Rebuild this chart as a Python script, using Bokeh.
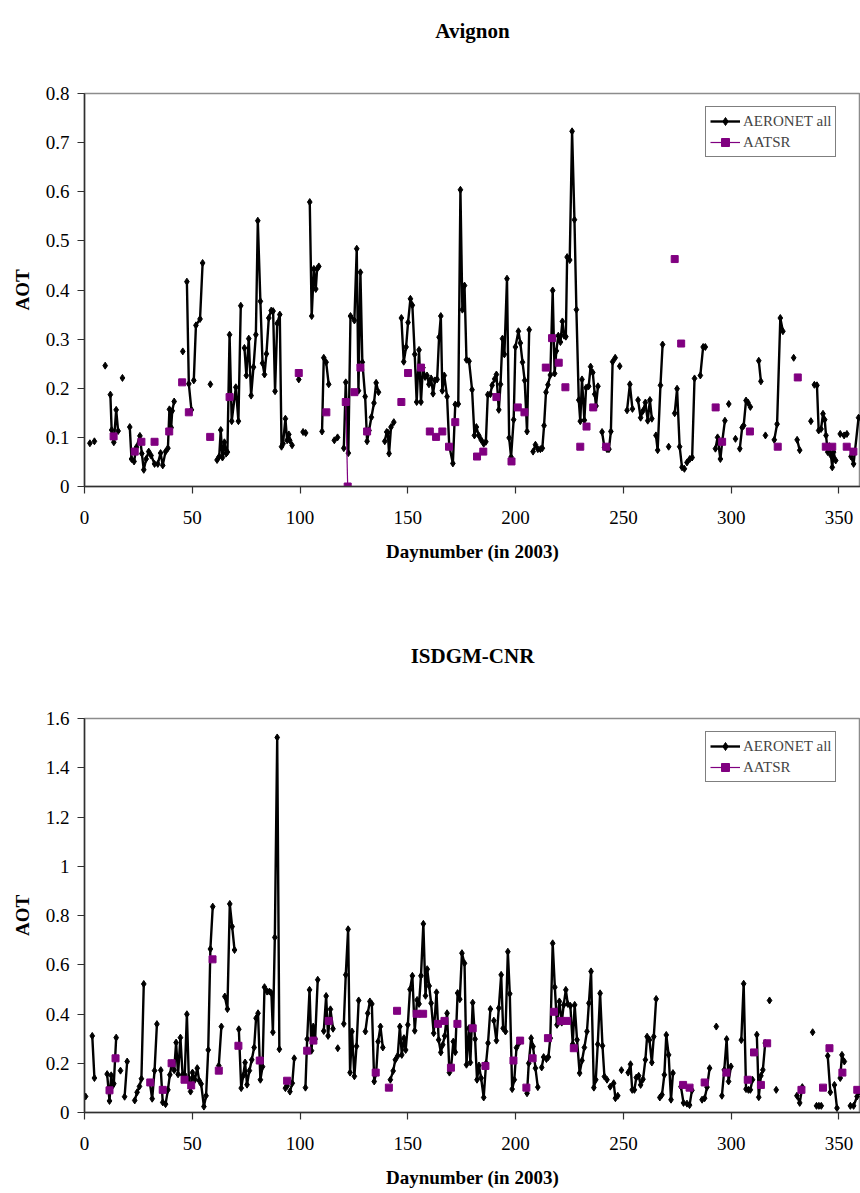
import numpy as np
from bokeh.plotting import figure
from bokeh.layouts import column
from bokeh.models import (Range1d, FixedTicker, CustomJSTickFormatter, Legend, LegendItem, Title)
from bokeh.embed import file_html
from bokeh.resources import INLINE

# ---------------- data ----------------
x_ticks = [0, 50, 100, 150, 200, 250, 300, 350]
avignon_y_ticks = [0, 0.1, 0.2, 0.3, 0.4, 0.5, 0.6, 0.7, 0.8]
isdgm_y_ticks = [0, 0.2, 0.4, 0.6, 0.8, 1.0, 1.2, 1.4, 1.6]
titles = ["Avignon", "ISDGM-CNR"]
series_names = ["AERONET all", "AATSR"]
x_label = "Daynumber (in 2003)"
y_label = "AOT"

# AERONET daily AOT, runs of consecutive days (gaps = no measurement)
avignon_aeronet = [
    [(2.5, 0.088)], [(4.6, 0.092)], [(9.6, 0.246)],
    [(12.0, 0.187), (12.6, 0.115), (13.6, 0.090), (14.7, 0.156), (15.6, 0.113)],
    [(17.6, 0.221)],
    [(21.0, 0.121), (21.8, 0.056), (23.0, 0.051), (24.1, 0.080), (25.7, 0.103), (26.6, 0.067),
     (27.5, 0.034), (28.6, 0.056), (29.8, 0.071), (30.9, 0.063), (32.5, 0.046), (34.0, 0.046),
     (35.3, 0.068), (36.3, 0.043), (37.6, 0.071), (38.7, 0.078), (39.4, 0.157), (40.2, 0.120),
     (40.7, 0.154), (41.6, 0.173)],
    [(45.6, 0.275)],
    [(47.5, 0.417), (48.4, 0.209), (49.6, 0.156)],
    [(50.7, 0.216), (51.7, 0.328), (53.6, 0.341), (54.8, 0.455)],
    [(58.4, 0.208)],
    [(61.5, 0.054), (62.5, 0.061), (63.2, 0.115), (64.0, 0.059), (64.9, 0.090), (65.7, 0.067),
     (66.3, 0.070), (67.3, 0.309), (68.3, 0.133), (70.2, 0.202), (71.4, 0.133), (72.5, 0.368)],
    [(74.2, 0.282), (75.1, 0.226), (76.2, 0.301), (77.3, 0.185), (78.4, 0.243), (79.5, 0.309),
     (80.4, 0.541), (81.6, 0.377), (82.6, 0.251), (83.5, 0.228), (84.4, 0.270), (85.5, 0.343),
     (86.6, 0.358), (87.5, 0.357), (88.4, 0.194), (89.4, 0.332), (90.6, 0.350), (91.4, 0.081),
     (92.1, 0.087), (93.2, 0.138), (94.0, 0.094), (94.8, 0.106), (95.2, 0.094), (96.3, 0.084)],
    [(99.4, 0.218)],
    [(101.4, 0.111), (102.6, 0.109)],
    [(104.5, 0.579), (105.4, 0.347), (106.4, 0.443), (107.3, 0.402), (107.9, 0.443), (108.7, 0.448)],
    [(110.2, 0.112), (111.0, 0.262), (112.1, 0.253), (113.3, 0.208)],
    [(115.9, 0.094), (117.4, 0.100)],
    [(120.3, 0.078), (121.2, 0.212), (122.4, 0.068), (123.4, 0.347), (125.2, 0.338), (126.3, 0.484),
     (127.1, 0.195), (128.0, 0.436), (128.9, 0.253), (130.2, 0.183), (131.1, 0.092), (132.0, 0.114),
     (133.1, 0.141), (134.3, 0.170), (135.3, 0.211), (136.4, 0.192)],
    [(139.3, 0.092), (140.2, 0.111), (140.7, 0.110), (141.3, 0.067), (142.2, 0.121), (143.5, 0.131)],
    [(147.0, 0.343), (148.1, 0.254), (149.2, 0.284), (150.1, 0.334), (151.2, 0.382), (152.1, 0.369),
     (153.2, 0.269), (154.1, 0.172), (155.2, 0.278), (156.1, 0.172), (157.0, 0.242), (158.0, 0.223),
     (158.9, 0.226), (159.8, 0.208), (160.8, 0.220), (161.7, 0.189), (162.6, 0.216), (163.6, 0.218),
     (164.5, 0.304), (165.3, 0.347), (166.0, 0.195), (166.9, 0.226), (168.2, 0.183), (169.2, 0.083),
     (170.9, 0.047), (172.0, 0.167), (173.4, 0.168), (174.4, 0.604), (175.3, 0.360), (176.3, 0.409),
     (177.2, 0.258), (178.4, 0.255), (179.8, 0.197), (180.9, 0.104), (181.8, 0.121), (182.9, 0.104),
     (184.0, 0.095), (185.2, 0.087), (186.2, 0.091), (187.1, 0.187), (188.3, 0.188), (189.1, 0.206),
     (190.3, 0.219), (191.1, 0.228), (192.2, 0.156), (193.0, 0.208), (193.9, 0.301), (194.8, 0.269),
     (196.0, 0.423), (197.0, 0.099), (197.9, 0.060), (199.1, 0.136), (199.9, 0.284), (201.3, 0.316),
     (202.2, 0.292), (203.2, 0.253), (204.2, 0.216), (205.3, 0.112), (206.3, 0.319)],
    [(208.1, 0.071), (209.2, 0.085), (210.3, 0.076), (211.5, 0.076), (212.4, 0.078), (213.2, 0.124),
     (214.1, 0.192), (215.0, 0.207), (216.1, 0.227), (217.2, 0.399), (218.1, 0.230), (218.9, 0.276),
     (219.8, 0.307), (220.8, 0.294), (221.7, 0.336), (222.5, 0.307), (223.3, 0.305), (223.9, 0.467),
     (225.1, 0.461), (226.2, 0.723), (227.3, 0.543), (228.2, 0.360), (229.3, 0.176), (230.0, 0.133),
     (230.8, 0.218), (231.9, 0.135), (232.7, 0.201), (233.9, 0.204), (234.8, 0.244), (235.8, 0.232),
     (236.7, 0.188), (237.3, 0.164), (238.2, 0.204)],
    [(240.1, 0.111), (241.2, 0.080), (242.4, 0.076), (243.3, 0.076), (244.2, 0.112), (245.0, 0.254),
     (246.2, 0.262)],
    [(248.3, 0.245)],
    [(251.7, 0.155), (253.0, 0.208), (254.2, 0.158)],
    [(256.8, 0.176), (258.0, 0.140), (259.1, 0.154), (260.2, 0.171), (261.3, 0.134), (262.3, 0.176),
     (263.2, 0.138)],
    [(265.1, 0.104), (265.9, 0.074), (267.2, 0.206), (268.2, 0.289)],
    [(271.0, 0.081)],
    [(273.8, 0.149), (274.9, 0.199), (276.1, 0.081), (277.2, 0.039), (278.3, 0.036)],
    [(279.5, 0.049), (280.8, 0.056), (281.9, 0.059), (283.0, 0.220)],
    [(285.7, 0.226), (287.0, 0.284), (288.0, 0.284)],
    [(292.7, 0.077), (293.7, 0.100), (295.0, 0.056), (295.9, 0.093), (297.1, 0.134)],
    [(298.9, 0.168)], [(302.0, 0.097)],
    [(304.0, 0.077), (305.1, 0.120), (305.8, 0.124), (306.9, 0.175), (307.8, 0.171), (308.9, 0.162)],
    [(312.8, 0.256), (313.8, 0.214)],
    [(315.9, 0.104)],
    [(320.0, 0.095), (321.3, 0.127), (322.8, 0.343), (324.0, 0.316)],
    [(329.0, 0.262)],
    [(330.6, 0.095), (331.8, 0.074)],
    [(337.0, 0.133)],
    [(338.6, 0.207), (339.8, 0.206), (340.6, 0.114), (341.7, 0.117), (342.6, 0.148), (343.4, 0.136),
     (344.0, 0.104), (344.8, 0.070), (345.6, 0.082), (346.3, 0.063), (346.9, 0.039), (347.5, 0.070),
     (348.5, 0.053)],
    [(350.6, 0.107), (352.4, 0.104), (353.7, 0.107)],
    [(355.6, 0.061), (356.8, 0.046), (359.1, 0.140)],
]

avignon_aatsr_day = [13.5, 23.3, 26.4, 32.5, 39.3, 45.3, 48.4, 58.3, 67.3, 99.4, 112.2, 121.2, 122.1,
                     125.2, 128.0, 131.1, 147.0, 150.1, 156.1, 160.2, 163.1, 166.0, 169.1, 172.0,
                     182.1, 185.0, 191.1, 198.1, 201.0, 204.1, 214.0, 216.9, 220.0, 223.1, 230.0,
                     232.9, 236.0, 242.0, 273.8, 276.8, 292.8, 295.8, 308.7, 321.6, 330.9, 343.9,
                     346.9, 353.6, 356.7]
avignon_aatsr_aot = [0.102, 0.071, 0.091, 0.091, 0.112, 0.212, 0.151, 0.101, 0.182, 0.231, 0.151, 0.172,
                     0.0, 0.192, 0.242, 0.112, 0.172, 0.231, 0.242, 0.112, 0.101, 0.112, 0.081, 0.131,
                     0.061, 0.071, 0.182, 0.051, 0.161, 0.151, 0.242, 0.302, 0.252, 0.202, 0.081,
                     0.122, 0.161, 0.081, 0.463, 0.291, 0.161, 0.091, 0.112, 0.081, 0.222, 0.081,
                     0.081, 0.081, 0.071]

isdgm_aeronet = [
    [(0.5, 0.065)],
    [(3.6, 0.311), (4.6, 0.140)],
    [(10.5, 0.156), (11.6, 0.047), (12.4, 0.151), (13.0, 0.108), (13.6, 0.117), (14.7, 0.304)],
    [(16.7, 0.170)],
    [(18.6, 0.064), (19.8, 0.207)],
    [(23.3, 0.049), (24.4, 0.082), (25.5, 0.106), (26.4, 0.137), (27.5, 0.522)],
    [(30.3, 0.122), (31.4, 0.056), (32.5, 0.170), (33.6, 0.359)],
    [(35.4, 0.172), (36.3, 0.041), (37.6, 0.034), (38.7, 0.092), (39.6, 0.153), (40.5, 0.200),
     (41.6, 0.172), (42.5, 0.284), (43.4, 0.155), (44.5, 0.304), (45.5, 0.153), (46.5, 0.153),
     (47.5, 0.399), (48.4, 0.140), (49.2, 0.085), (50.1, 0.162), (51.2, 0.133), (52.3, 0.180),
     (53.2, 0.130), (54.1, 0.116), (55.4, 0.024), (56.4, 0.068), (57.4, 0.254), (58.4, 0.664),
     (59.5, 0.836)],
    [(62.3, 0.190), (63.5, 0.349)],
    [(65.1, 0.471), (66.3, 0.420), (67.4, 0.847), (68.5, 0.755), (69.6, 0.660)],
    [(71.6, 0.338), (72.7, 0.099), (73.6, 0.149), (74.5, 0.203), (75.4, 0.113), (76.5, 0.170),
     (77.6, 0.214), (78.7, 0.264), (79.6, 0.383), (80.5, 0.403), (81.6, 0.133), (82.6, 0.186),
     (83.5, 0.509), (84.7, 0.491), (85.8, 0.491), (86.7, 0.485), (87.4, 0.326), (88.3, 0.711),
     (89.4, 1.523), (90.4, 0.257)],
    [(93.2, 0.099), (94.0, 0.108)],
    [(95.3, 0.085), (96.4, 0.119), (97.3, 0.220)],
    [(102.5, 0.101), (103.3, 0.298), (104.4, 0.498), (105.3, 0.251), (106.1, 0.349), (107.0, 0.298),
     (108.2, 0.539)],
    [(111.0, 0.331), (112.1, 0.473), (113.0, 0.311), (114.1, 0.419), (115.3, 0.340)],
    [(117.5, 0.261)],
    [(120.3, 0.360), (121.2, 0.559), (122.3, 0.744), (123.2, 0.162), (124.1, 0.329), (125.2, 0.147),
     (126.2, 0.269), (127.2, 0.455)],
    [(130.3, 0.329), (131.4, 0.403), (132.4, 0.451), (133.3, 0.441), (134.4, 0.126), (135.3, 0.160),
     (136.2, 0.288), (137.3, 0.349), (138.4, 0.264)],
    [(141.9, 0.133), (143.2, 0.169), (144.2, 0.214), (145.3, 0.230), (146.3, 0.349), (147.2, 0.234),
     (148.2, 0.302), (149.0, 0.254), (150.0, 0.356), (151.0, 0.500), (152.1, 0.555), (153.2, 0.332),
     (154.3, 0.457), (155.2, 0.441), (156.1, 0.555), (157.2, 0.766), (158.2, 0.474), (159.0, 0.582),
     (159.9, 0.514), (160.8, 0.444), (162.0, 0.322), (163.3, 0.488), (164.3, 0.295), (165.3, 0.244),
     (166.2, 0.275), (167.1, 0.311), (168.2, 0.403), (169.3, 0.162), (170.1, 0.186), (171.1, 0.288),
     (172.0, 0.245), (173.1, 0.485), (174.1, 0.460), (175.1, 0.647), (176.3, 0.606), (177.2, 0.194),
     (178.3, 0.342), (179.0, 0.203), (180.1, 0.446), (181.2, 0.298), (182.1, 0.133), (183.0, 0.191),
     (184.0, 0.140), (185.2, 0.061), (186.3, 0.200), (187.2, 0.282), (188.3, 0.420)],
    [(189.9, 0.373), (191.1, 0.292), (192.2, 0.424), (193.3, 0.559), (194.2, 0.342), (195.3, 0.329),
     (196.4, 0.653), (197.3, 0.482), (198.4, 0.095), (199.4, 0.133), (200.4, 0.263), (201.5, 0.281),
     (202.2, 0.292)],
    [(205.3, 0.078), (206.1, 0.200), (207.2, 0.302), (208.1, 0.268), (209.2, 0.180), (210.3, 0.103)],
    [(212.1, 0.183), (213.0, 0.225), (214.3, 0.217), (215.2, 0.225), (216.1, 0.302), (217.2, 0.687),
     (218.2, 0.509), (219.2, 0.356), (220.3, 0.451), (221.4, 0.365), (222.3, 0.437), (223.3, 0.498),
     (224.2, 0.441), (225.4, 0.433), (226.5, 0.278), (227.4, 0.437), (228.5, 0.295), (229.7, 0.160),
     (230.8, 0.211), (231.9, 0.264), (233.1, 0.329), (234.0, 0.444), (235.0, 0.573), (236.3, 0.101),
     (237.2, 0.133), (238.1, 0.277), (239.2, 0.484), (240.3, 0.271), (241.2, 0.146), (242.4, 0.133)],
    [(243.9, 0.105), (245.5, 0.119), (246.3, 0.058), (247.4, 0.068)],
    [(249.1, 0.172)],
    [(252.2, 0.162), (253.3, 0.196), (254.1, 0.092), (255.1, 0.092), (256.0, 0.142), (257.1, 0.149),
     (258.0, 0.112), (259.1, 0.135), (260.2, 0.214), (261.0, 0.308), (262.1, 0.295), (263.2, 0.203),
     (264.1, 0.308), (265.2, 0.461)],
    [(266.9, 0.061), (267.9, 0.072), (269.0, 0.153), (269.9, 0.315), (271.0, 0.234), (272.1, 0.052),
     (273.0, 0.160)],
    [(276.7, 0.105), (277.9, 0.039), (279.5, 0.036), (280.7, 0.030), (281.8, 0.090)],
    [(286.5, 0.052), (287.7, 0.058), (288.8, 0.103), (290.0, 0.180)],
    [(293.1, 0.349)],
    [(295.7, 0.068), (296.8, 0.173), (297.9, 0.298), (298.8, 0.126), (299.9, 0.187)],
    [(304.7, 0.294), (305.8, 0.523), (306.9, 0.095), (308.0, 0.092), (308.9, 0.092), (309.9, 0.133)],
    [(311.9, 0.316), (312.8, 0.062), (313.8, 0.149), (314.7, 0.173), (315.8, 0.282)],
    [(317.8, 0.455)],
    [(320.9, 0.092)],
    [(330.5, 0.068), (331.8, 0.039), (333.0, 0.103)],
    [(337.8, 0.326)],
    [(339.6, 0.027), (340.7, 0.027), (341.8, 0.027)],
    [(344.8, 0.230), (346.0, 0.082)],
    [(347.9, 0.112), (349.1, 0.018)],
    [(350.6, 0.140), (351.4, 0.234), (352.5, 0.207)],
    [(355.3, 0.027), (356.8, 0.027), (358.4, 0.065), (359.6, 0.085)],
]

isdgm_aatsr_day = [11.6, 14.4, 30.5, 36.3, 40.4, 46.4, 49.5, 59.4, 62.3, 71.4, 81.3, 94.0, 103.3, 106.2,
                   113.3, 135.1, 141.2, 145.0, 154.1, 157.1, 164.0, 167.0, 170.0, 173.0, 180.1, 186.0,
                   199.0, 202.1, 205.0, 207.9, 215.0, 217.8, 220.9, 223.9, 227.0, 277.7, 280.7, 287.7,
                   297.8, 307.7, 310.6, 313.8, 316.7, 332.6, 342.6, 345.6, 351.6, 358.5]
isdgm_aatsr_aot = [0.090, 0.220, 0.122, 0.092, 0.200, 0.133, 0.110, 0.622, 0.170, 0.271, 0.211, 0.129,
                   0.251, 0.292, 0.372, 0.162, 0.101, 0.413, 0.401, 0.401, 0.360, 0.372, 0.182, 0.360,
                   0.342, 0.189, 0.211, 0.292, 0.101, 0.220, 0.302, 0.409, 0.372, 0.372, 0.261, 0.112,
                   0.101, 0.122, 0.162, 0.133, 0.244, 0.112, 0.281, 0.092, 0.101, 0.261, 0.162, 0.092]

# ---------------- helpers ----------------
FONT = "Liberation Serif"
PURPLE = "#800080"


def flatten(segments):
    xs, ys = [], []
    for seg in segments:
        if xs:
            xs.append(np.nan)
            ys.append(np.nan)
        for d, v in seg:
            xs.append(d)
            ys.append(v)
    return np.array(xs, dtype=float), np.array(ys, dtype=float)


def break_gaps(days, vals, max_gap=1.5):
    xs, ys = [], []
    for i, (d, v) in enumerate(zip(days, vals)):
        if i > 0 and d - days[i - 1] > max_gap:
            xs.append(np.nan)
            ys.append(np.nan)
        xs.append(d)
        ys.append(v)
    return np.array(xs, dtype=float), np.array(ys, dtype=float)


def make_panel(title, segments, aatsr_day, aatsr_aot, y_ticks, y_max, height, top, bottom,
               spacer_standoff):
    p = figure(width=860, height=height, output_backend="svg", toolbar_location=None,
               x_range=Range1d(0, 360), y_range=Range1d(0, y_max),
               min_border_left=84, min_border_right=0, min_border_top=top, min_border_bottom=bottom)
    p.title = None
    # blank spacer panel between frame and title (panels stack outward from the frame)
    spacer = Title(text=" ", align="center", text_font=FONT, text_font_size="21px",
                   standoff=spacer_standoff)
    p.add_layout(spacer, "above")
    t = Title(text=title, align="center", text_font=FONT,
              text_font_size="21px", text_font_style="bold", standoff=10,
              text_color="black")
    p.add_layout(t, "above")
    p.grid.visible = False
    p.outline_line_color = "#8c8c8c"
    p.outline_line_width = 1.5
    p.background_fill_color = "white"
    p.border_fill_color = "white"

    p.xaxis.ticker = FixedTicker(ticks=x_ticks)
    p.yaxis.ticker = FixedTicker(ticks=y_ticks)
    p.yaxis.formatter = CustomJSTickFormatter(code=r"return tick.toFixed(1).replace(/\.0$/, '');")
    for ax in (p.xaxis[0], p.yaxis[0]):
        ax.major_tick_in = 0
        ax.major_tick_out = 7
        ax.minor_tick_line_color = None
        ax.axis_line_color = "#303030"
        ax.axis_line_width = 1.5
        ax.major_tick_line_color = "#303030"
        ax.major_tick_line_width = 1.2
        ax.major_label_text_font = FONT
        ax.major_label_text_font_size = "19px"
        ax.major_label_text_color = "black"
        ax.axis_label_text_font = FONT
        ax.axis_label_text_font_size = "19px"
        ax.axis_label_text_font_style = "bold"
        ax.axis_label_text_color = "black"
    p.xaxis.axis_label = x_label
    p.yaxis.axis_label = y_label
    p.xaxis.major_label_standoff = 17
    p.xaxis.axis_label_standoff = 14
    p.yaxis.major_label_standoff = 8
    p.yaxis.axis_label_standoff = 10

    ax_d, ax_v = flatten(segments)
    l1 = p.line(ax_d, ax_v, line_color="black", line_width=2.4)
    s1 = p.scatter(ax_d, ax_v, marker="diamond", size=7, fill_color="black", line_color="black")

    ad, av = break_gaps(aatsr_day, aatsr_aot)
    l2 = p.line(ad, av, line_color=PURPLE, line_width=1.2)
    s2 = p.scatter(aatsr_day, aatsr_aot, marker="square", size=7, fill_color=PURPLE, line_color=PURPLE)

    legend = Legend(items=[LegendItem(label=series_names[0], renderers=[l1, s1]),
                           LegendItem(label=series_names[1], renderers=[l2, s2])],
                    location=(621, height - top - bottom - 64), orientation="vertical",
                    label_text_font=FONT, label_text_font_size="15px",
                    label_height=20, glyph_height=20, glyph_width=30, padding=4, spacing=1,
                    margin=0, label_standoff=3,
                    border_line_color="black", border_line_width=1,
                    background_fill_color="white", background_fill_alpha=1.0)
    p.add_layout(legend, "center")
    return p


p1 = make_panel(titles[0], avignon_aeronet, avignon_aatsr_day, avignon_aatsr_aot,
                avignon_y_ticks, 0.8, 600, 93, 114, 20)
p2 = make_panel(titles[1], isdgm_aeronet, isdgm_aatsr_day, isdgm_aatsr_aot,
                isdgm_y_ticks, 1.6, 593, 118, 81, 20)

layout = column(p1, p2, spacing=0)
open("out.html", "w").write(file_html(layout, INLINE))
